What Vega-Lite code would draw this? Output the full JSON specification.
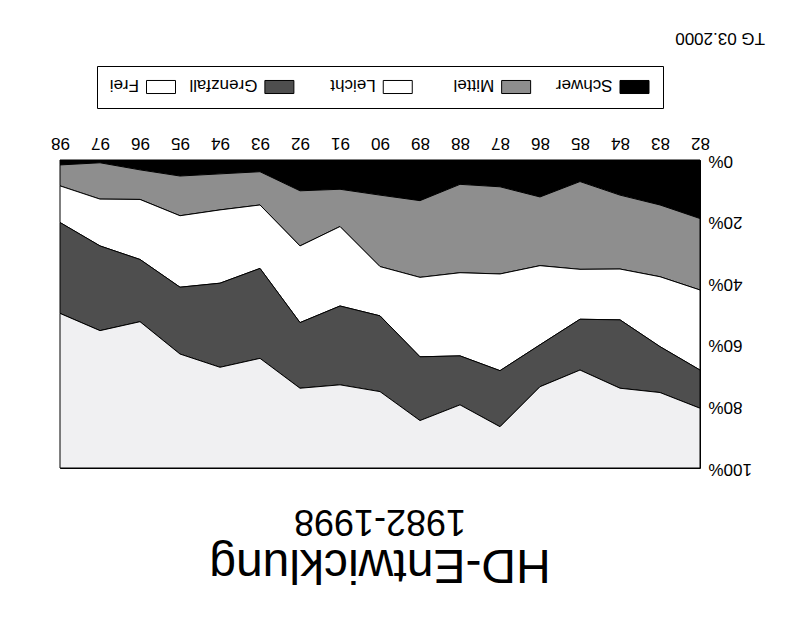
{
  "$schema": "https://vega.github.io/schema/vega-lite/v6.json",
  "background": "white",
  "padding": {"left": 50, "top": 29, "right": 5, "bottom": 5},
  "config": {
    "font": "Liberation Sans",
    "view": {"stroke": "black", "strokeWidth": 1},
    "axis": {"labelFont": "Liberation Sans", "labelColor": "black", "grid": false, "ticks": false, "domain": false},
    "text": {"font": "Liberation Sans", "fill": "black"}
  },
  "datasets": {
    "hd": [
      {"Jahr": 82, "Grad": "Schwer", "Anteil": 19}, {"Jahr": 82, "Grad": "Mittel", "Anteil": 23.2}, {"Jahr": 82, "Grad": "Leicht", "Anteil": 26}, {"Jahr": 82, "Grad": "Grenzfall", "Anteil": 12.4}, {"Jahr": 82, "Grad": "Frei", "Anteil": 19.4},
      {"Jahr": 83, "Grad": "Schwer", "Anteil": 14.6}, {"Jahr": 83, "Grad": "Mittel", "Anteil": 23.3}, {"Jahr": 83, "Grad": "Leicht", "Anteil": 22.7}, {"Jahr": 83, "Grad": "Grenzfall", "Anteil": 14.9}, {"Jahr": 83, "Grad": "Frei", "Anteil": 24.5},
      {"Jahr": 84, "Grad": "Schwer", "Anteil": 11.4}, {"Jahr": 84, "Grad": "Mittel", "Anteil": 24}, {"Jahr": 84, "Grad": "Leicht", "Anteil": 16.5}, {"Jahr": 84, "Grad": "Grenzfall", "Anteil": 22.2}, {"Jahr": 84, "Grad": "Frei", "Anteil": 25.9},
      {"Jahr": 85, "Grad": "Schwer", "Anteil": 7}, {"Jahr": 85, "Grad": "Mittel", "Anteil": 28.5}, {"Jahr": 85, "Grad": "Leicht", "Anteil": 16.2}, {"Jahr": 85, "Grad": "Grenzfall", "Anteil": 16.5}, {"Jahr": 85, "Grad": "Frei", "Anteil": 31.8},
      {"Jahr": 86, "Grad": "Schwer", "Anteil": 12}, {"Jahr": 86, "Grad": "Mittel", "Anteil": 22.3}, {"Jahr": 86, "Grad": "Leicht", "Anteil": 25.7}, {"Jahr": 86, "Grad": "Grenzfall", "Anteil": 13.6}, {"Jahr": 86, "Grad": "Frei", "Anteil": 26.4},
      {"Jahr": 87, "Grad": "Schwer", "Anteil": 8.7}, {"Jahr": 87, "Grad": "Mittel", "Anteil": 28.3}, {"Jahr": 87, "Grad": "Leicht", "Anteil": 31.4}, {"Jahr": 87, "Grad": "Grenzfall", "Anteil": 18.2}, {"Jahr": 87, "Grad": "Frei", "Anteil": 13.4},
      {"Jahr": 88, "Grad": "Schwer", "Anteil": 7.9}, {"Jahr": 88, "Grad": "Mittel", "Anteil": 28.7}, {"Jahr": 88, "Grad": "Leicht", "Anteil": 27}, {"Jahr": 88, "Grad": "Grenzfall", "Anteil": 15.9}, {"Jahr": 88, "Grad": "Frei", "Anteil": 20.5},
      {"Jahr": 89, "Grad": "Schwer", "Anteil": 13.2}, {"Jahr": 89, "Grad": "Mittel", "Anteil": 24.9}, {"Jahr": 89, "Grad": "Leicht", "Anteil": 25.8}, {"Jahr": 89, "Grad": "Grenzfall", "Anteil": 20.7}, {"Jahr": 89, "Grad": "Frei", "Anteil": 15.4},
      {"Jahr": 90, "Grad": "Schwer", "Anteil": 11.4}, {"Jahr": 90, "Grad": "Mittel", "Anteil": 23.2}, {"Jahr": 90, "Grad": "Leicht", "Anteil": 16}, {"Jahr": 90, "Grad": "Grenzfall", "Anteil": 24.6}, {"Jahr": 90, "Grad": "Frei", "Anteil": 24.8},
      {"Jahr": 91, "Grad": "Schwer", "Anteil": 9.5}, {"Jahr": 91, "Grad": "Mittel", "Anteil": 12.1}, {"Jahr": 91, "Grad": "Leicht", "Anteil": 25.8}, {"Jahr": 91, "Grad": "Grenzfall", "Anteil": 25.6}, {"Jahr": 91, "Grad": "Frei", "Anteil": 27},
      {"Jahr": 92, "Grad": "Schwer", "Anteil": 10}, {"Jahr": 92, "Grad": "Mittel", "Anteil": 17.9}, {"Jahr": 92, "Grad": "Leicht", "Anteil": 24.9}, {"Jahr": 92, "Grad": "Grenzfall", "Anteil": 21.3}, {"Jahr": 92, "Grad": "Frei", "Anteil": 25.9},
      {"Jahr": 93, "Grad": "Schwer", "Anteil": 3.8}, {"Jahr": 93, "Grad": "Mittel", "Anteil": 10.8}, {"Jahr": 93, "Grad": "Leicht", "Anteil": 20.6}, {"Jahr": 93, "Grad": "Grenzfall", "Anteil": 29.2}, {"Jahr": 93, "Grad": "Frei", "Anteil": 35.6},
      {"Jahr": 94, "Grad": "Schwer", "Anteil": 4.5}, {"Jahr": 94, "Grad": "Mittel", "Anteil": 11.7}, {"Jahr": 94, "Grad": "Leicht", "Anteil": 23.8}, {"Jahr": 94, "Grad": "Grenzfall", "Anteil": 27.3}, {"Jahr": 94, "Grad": "Frei", "Anteil": 32.7},
      {"Jahr": 95, "Grad": "Schwer", "Anteil": 5.2}, {"Jahr": 95, "Grad": "Mittel", "Anteil": 12.9}, {"Jahr": 95, "Grad": "Leicht", "Anteil": 23.2}, {"Jahr": 95, "Grad": "Grenzfall", "Anteil": 21.7}, {"Jahr": 95, "Grad": "Frei", "Anteil": 37},
      {"Jahr": 96, "Grad": "Schwer", "Anteil": 3.2}, {"Jahr": 96, "Grad": "Mittel", "Anteil": 9.6}, {"Jahr": 96, "Grad": "Leicht", "Anteil": 19.5}, {"Jahr": 96, "Grad": "Grenzfall", "Anteil": 20.2}, {"Jahr": 96, "Grad": "Frei", "Anteil": 47.5},
      {"Jahr": 97, "Grad": "Schwer", "Anteil": 0.9}, {"Jahr": 97, "Grad": "Mittel", "Anteil": 11.8}, {"Jahr": 97, "Grad": "Leicht", "Anteil": 15.2}, {"Jahr": 97, "Grad": "Grenzfall", "Anteil": 27.5}, {"Jahr": 97, "Grad": "Frei", "Anteil": 44.6},
      {"Jahr": 98, "Grad": "Schwer", "Anteil": 1.6}, {"Jahr": 98, "Grad": "Mittel", "Anteil": 6.8}, {"Jahr": 98, "Grad": "Leicht", "Anteil": 11.9}, {"Jahr": 98, "Grad": "Grenzfall", "Anteil": 29.5}, {"Jahr": 98, "Grad": "Frei", "Anteil": 50.2}
    ],
    "kat": [
      {"Grad": "Frei"}, {"Grad": "Grenzfall"}, {"Grad": "Leicht"}, {"Grad": "Mittel"}, {"Grad": "Schwer"}
    ]
  },
  "vconcat": [
    {
      "width": 566, "height": 42,
      "layer": [
        {
          "data": {"name": "kat"},
          "mark": {"type": "point", "shape": "M-1,-0.45H1V0.45H-1Z", "size": 841, "filled": true, "stroke": "black", "strokeWidth": 1, "opacity": 1, "dy": -1},
          "encoding": {
            "x": {"field": "Grad", "type": "nominal", "scale": {"type": "point", "padding": 0, "domain": ["Frei", "Grenzfall", "Leicht", "Mittel", "Schwer"], "range": [64, 537.5]}, "axis": null},
            "fill": {"field": "Grad", "type": "nominal", "scale": {"domain": ["Schwer", "Mittel", "Leicht", "Grenzfall", "Frei"], "range": ["#000000", "#8e8e8e", "#ffffff", "#4e4e4e", "#ffffff"]}, "legend": null}
          }
        },
        {
          "data": {"name": "kat"},
          "mark": {"type": "text", "angle": 180, "align": "left", "baseline": "middle", "dx": 22, "dy": 2, "fontSize": 17},
          "encoding": {
            "x": {"field": "Grad", "type": "nominal", "scale": {"type": "point", "padding": 0, "domain": ["Frei", "Grenzfall", "Leicht", "Mittel", "Schwer"], "range": [64, 537.5]}, "axis": null},
            "text": {"field": "Grad"}
          }
        },
        {
          "data": {"values": [{"t": "TG 03.2000"}]},
          "mark": {"type": "text", "x": "width", "dx": -102, "dy": 54, "angle": 180, "align": "left", "baseline": "alphabetic", "fontSize": 17},
          "encoding": {"text": {"field": "t"}}
        }
      ]
    },
    {
      "width": 640, "height": 308,
      "data": {"name": "hd"},
      "transform": [
        {"calculate": "indexof(['Schwer','Mittel','Leicht','Grenzfall','Frei'], datum.Grad)", "as": "rang"}
      ],
      "mark": {"type": "area", "stroke": "black", "strokeWidth": 1, "interpolate": "linear"},
      "encoding": {
        "x": {
          "field": "Jahr", "type": "quantitative",
          "scale": {"domain": [82, 98], "reverse": true, "nice": false, "zero": false},
          "axis": {"orient": "top", "title": null, "values": [82, 83, 84, 85, 86, 87, 88, 89, 90, 91, 92, 93, 94, 95, 96, 97, 98], "labelAngle": 180, "labelAlign": "center", "labelBaseline": "top", "labelPadding": 10, "labelFontSize": 17, "labelFlush": false, "labelOverlap": false}
        },
        "y": {
          "field": "Anteil", "type": "quantitative", "stack": "zero",
          "scale": {"domain": [0, 100], "reverse": true, "nice": false},
          "axis": {"orient": "right", "title": null, "values": [0, 20, 40, 60, 80, 100], "labelExpr": "datum.value + '%'", "labelAngle": 180, "labelAlign": "right", "labelBaseline": "middle", "labelPadding": 8, "labelFontSize": 17, "labelFlush": false, "labelOverlap": false}
        },
        "color": {"field": "Grad", "type": "nominal", "scale": {"domain": ["Schwer", "Mittel", "Leicht", "Grenzfall", "Frei"], "range": ["#000000", "#8e8e8e", "#ffffff", "#4e4e4e", "#f0f0f2"]}, "legend": null},
        "order": {"field": "rang", "type": "quantitative"}
      }
    },
    {
      "width": 640, "height": 90,
      "view": {"stroke": null},
      "layer": [
        {
          "data": {"values": [{"t": "1982-1998"}]},
          "mark": {"type": "text", "angle": 180, "align": "center", "baseline": "alphabetic", "fontSize": 36, "dy": 55},
          "encoding": {"text": {"field": "t"}}
        },
        {
          "data": {"values": [{"t": "HD-Entwicklung"}]},
          "mark": {"type": "text", "angle": 180, "align": "center", "baseline": "alphabetic", "fontSize": 48, "dy": 15},
          "encoding": {"text": {"field": "t"}}
        }
      ]
    }
  ],
  "spacing": 52,
  "bounds": "flush",
  "center": true
}
